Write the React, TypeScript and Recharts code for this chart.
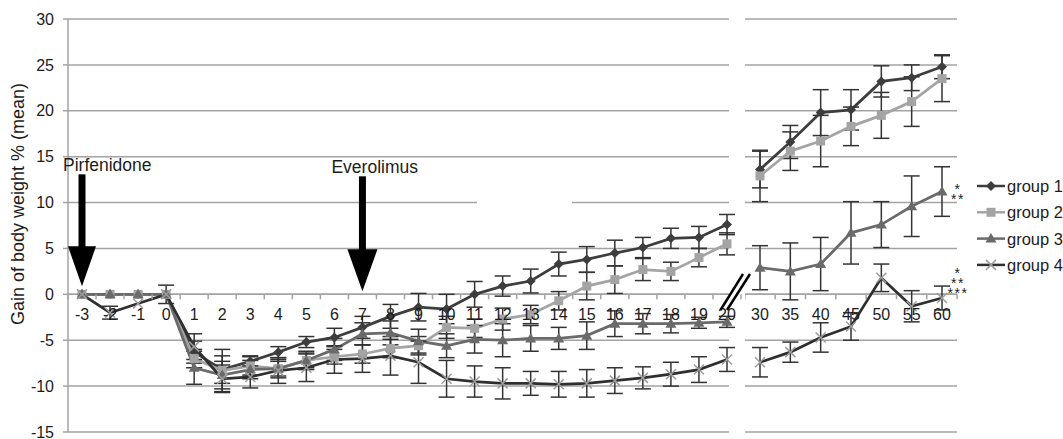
import { LineChart, Line, XAxis, YAxis, CartesianGrid, ReferenceLine, ReferenceDot, ErrorBar } from "recharts";

const FONT = '"Liberation Sans", Arial, sans-serif';
const INK = "#1c1c1c";
const GRID = "#a3a3a3";

// y scale shared by both panels
const Y_MIN = -15;
const Y_MAX = 30;
const Y_TICKS = [-15, -10, -5, 0, 5, 10, 15, 20, 25, 30];
const H = 439;
const TOP = 19;
const BOTTOM = 6;
const X_AXIS_H = 1;
const PLOT_H = H - TOP - BOTTOM - X_AXIS_H;
const ZERO_Y = TOP + (Y_MAX / (Y_MAX - Y_MIN)) * PLOT_H;

// time points (x categories)
const DAYS_L = ["-3", "-2", "-1", "0", "1", "2", "3", "4", "5", "6", "7", "8", "9", "10", "11", "12", "13", "14", "15", "16", "17", "18", "19", "20"];
const DAYS_R = ["30", "35", "40", "45", "50", "55", "60"];

// group means + error (left panel)
const G1_L = [0, 0, 0, 0, -6.3, -8.2, -7.3, -6.3, -5.2, -4.7, -3.6, -2.4, -1.4, -1.6, 0, 0.9, 1.45, 3.3, 3.8, 4.5, 5.1, 6.1, 6.2, 7.6];
const G1_L_ERR = [0, 0, 0, 0, 1.2, 1.5, 0.6, 0.6, 0.6, 1.0, 1.2, 1.3, 1.5, 1.6, 1.4, 1.1, 1.3, 1.3, 1.4, 1.4, 1.1, 1.1, 1.2, 1.1];
const G2_L = [0, 0, 0, 0, -7, -8.3, -7.8, -8.1, -7.2, -6.8, -6.5, -5.9, -5.6, -3.6, -3.7, -2.7, -2.2, -0.7, 0.9, 1.6, 2.7, 2.5, 4.0, 5.5];
const G2_L_ERR = [0, 0, 0, 0, 1, 2.3, 1, 0.8, 0.8, 0.8, 1, 1, 1, 1.2, 1, 1.2, 1, 1, 1.5, 1.5, 1.2, 1, 1, 1.2];
const G3_L = [0, 0, 0, 0, -8, -8.8, -8.2, -8.1, -7.2, -6, -4.3, -4.2, -5.1, -5.6, -4.9, -5, -4.8, -4.8, -4.5, -3.2, -3.2, -3.2, -3.1, -3.0];
const G3_L_ERR = [0, 0, 0, 0, 1.8, 1.5, 1, 1, 1, 1.2, 1.2, 1.3, 1.3, 1.3, 1.5, 1.8, 1.4, 1.2, 1.5, 1.4, 1.1, 1, 0.6, 0.6];
const G4_L = [0, -2, -1, 0, -5.7, -9.2, -9, -8.3, -8, -7.1, -7, -6.7, -7.4, -9.2, -9.5, -9.7, -9.7, -9.8, -9.7, -9.4, -9.1, -8.7, -8.2, -7.1];
const G4_L_ERR = [0, 0.7, 0, 1.0, 1.4, 1.5, 1.2, 1.4, 1.5, 1.5, 1.5, 2.1, 2.3, 2.0, 1.7, 1.7, 1.3, 1.4, 1.5, 1.4, 1.2, 1.3, 1.4, 1.3];

// right panel
const G1_R = [13.6, 16.6, 19.8, 20.1, 23.2, 23.6, 24.8];
const G1_R_ERR = [2, 1.8, 2.5, 2.2, 1.7, 1.4, 1.3];
const G2_R = [12.9, 15.6, 16.7, 18.3, 19.5, 21, 23.5];
const G2_R_ERR = [2.8, 2.1, 2.8, 2.1, 2.5, 2.7, 2.5];
const G3_R = [2.9, 2.5, 3.3, 6.7, 7.6, 9.6, 11.2];
const G3_R_ERR = [2.4, 3.1, 2.9, 3.4, 2.5, 3.3, 2.7];
const G4_R = [-7.4, -6.3, -4.7, -3.5, 1.8, -1.3, -0.4];
const G4_R_ERR = [1.6, 1.1, 1.6, 1.5, 1.5, 1.7, 1.3];

const leftData = DAYS_L.map((t, i) => ({
  t,
  g1: G1_L[i], e1: G1_L_ERR[i],
  g2: G2_L[i], e2: G2_L_ERR[i],
  g3: G3_L[i], e3: G3_L_ERR[i],
  g4: G4_L[i], e4: G4_L_ERR[i],
}));

const rightData = DAYS_R.map((t, i) => ({
  t,
  g1: G1_R[i], e1: G1_R_ERR[i],
  g2: G2_R[i], e2: G2_R_ERR[i],
  g3: G3_R[i], e3: G3_R_ERR[i],
  g4: G4_R[i], e4: G4_R_ERR[i],
}));

type MarkProps = { cx: number; cy: number };

const Diamond = ({ cx, cy }: MarkProps) => (
  <path d={`M${cx},${cy - 5} L${cx + 5},${cy} L${cx},${cy + 5} L${cx - 5},${cy} Z`} fill="#3d3d3d" />
);
const Square = ({ cx, cy }: MarkProps) => <rect x={cx - 4.5} y={cy - 4.5} width={9} height={9} fill="#a4a4a4" />;
const Triangle = ({ cx, cy }: MarkProps) => (
  <path d={`M${cx},${cy - 5.5} L${cx + 5.5},${cy + 4} L${cx - 5.5},${cy + 4} Z`} fill="#6a6a6a" />
);
const Cross = ({ cx, cy }: MarkProps) => (
  <g stroke="#9c9c9c" strokeWidth={1.5}>
    <line x1={cx - 5} y1={cy - 5} x2={cx + 5} y2={cy + 5} />
    <line x1={cx - 5} y1={cy + 5} x2={cx + 5} y2={cy - 5} />
  </g>
);

const SERIES = [
  { key: "g1", err: "e1", name: "group 1", color: "#3d3d3d", Mark: Diamond },
  { key: "g2", err: "e2", name: "group 2", color: "#a4a4a4", Mark: Square },
  { key: "g3", err: "e3", name: "group 3", color: "#6a6a6a", Mark: Triangle },
  { key: "g4", err: "e4", name: "group 4", color: "#2f2f2f", Mark: Cross },
];

// x labels sit under the y=0 line, like Excel's crossing axis
function makeTick(step: number) {
  return (props: any) => {
    const { x, payload, index } = props;
    return (
      <g>
        {index === 0 && <line x1={x - step / 2} y1={ZERO_Y} x2={x - step / 2} y2={ZERO_Y + 5} stroke={GRID} strokeWidth={1.5} />}
        <line x1={x + step / 2} y1={ZERO_Y} x2={x + step / 2} y2={ZERO_Y + 5} stroke={GRID} strokeWidth={1.5} />
        <text x={x} y={ZERO_Y + 26} textAnchor="middle" fontSize={16} fill={INK} fontFamily={FONT}>
          {payload.value}
        </text>
      </g>
    );
  };
}

function renderSeries() {
  return SERIES.map((s) => (
    <Line
      key={s.key}
      dataKey={s.key}
      stroke={s.color}
      strokeWidth={2.75}
      isAnimationActive={false}
      activeDot={false}
      dot={(p: any) => <s.Mark key={`${s.key}-${p.index}`} cx={p.cx} cy={p.cy} />}
    >
      <ErrorBar dataKey={s.err} width={8} stroke="#333" strokeWidth={1.5} direction="y" isAnimationActive={false} />
    </Line>
  ));
}

const Arrow = (label: string, textDx: number, tipUp: number, shaft: number, headH: number, headW: number) => (p: any) => {
  const tip = p.cy - tipUp;
  const cx = p.cx;
  return (
    <g>
      <text x={cx + textDx} y={tip - shaft - 3} fontSize={17.5} fill={INK} fontFamily={FONT}>{label}</text>
      <rect x={cx - 3.5} y={tip - shaft} width={7} height={shaft - headH + 1} fill="#000" />
      <path d={`M${cx - headW / 2},${tip - headH} L${cx + headW / 2},${tip - headH} L${cx},${tip} Z`} fill="#000" />
    </g>
  );
};

// stacked significance marks, one text block
const Stars = (lines: string[], dy0: number) => (p: any) => (
  <text x={p.cx + 16} y={p.cy + dy0} textAnchor="middle" fontSize={14} fill={INK} fontFamily={FONT} letterSpacing={1.5}>
    {lines.map((s, i) => (
      <tspan key={i} x={p.cx + 16} dy={i === 0 ? 0 : 10}>{s}</tspan>
    ))}
  </text>
);

const LEFT_PLOT_END = 729;
const LEFT_W = 745;
const LEFT_AXIS_W = 68;
const LEFT_PAD = { left: 14, right: 2 };
const LEFT_STEP = (LEFT_PLOT_END - LEFT_AXIS_W - LEFT_PAD.left - LEFT_PAD.right) / (DAYS_L.length - 1);

const RIGHT_X = 745;
const RIGHT_PLOT_W = 212;
const RIGHT_PAD = { left: 15, right: 15 };
const RIGHT_STEP = (RIGHT_PLOT_W - RIGHT_PAD.left - RIGHT_PAD.right) / (DAYS_R.length - 1);

export default function App() {
  return (
    <div style={{ position: "absolute", left: 0, top: 0, width: 1063, height: H, background: "#fff", fontFamily: FONT, overflow: "hidden" }}>
      <div style={{ position: "absolute", left: 0, top: 0 }}>
        <LineChart width={LEFT_W} height={H} data={leftData} margin={{ top: TOP, right: LEFT_W - LEFT_PLOT_END, bottom: BOTTOM, left: 0 }}>
          <CartesianGrid vertical={false} stroke={GRID} strokeWidth={1.5} />
          <XAxis dataKey="t" height={X_AXIS_H} axisLine={false} tickLine={false} interval={0} padding={LEFT_PAD} tick={makeTick(LEFT_STEP)} />
          <YAxis
            width={LEFT_AXIS_W}
            domain={[Y_MIN, Y_MAX]}
            ticks={Y_TICKS}
            interval={0}
            axisLine={{ stroke: GRID, strokeWidth: 1.5 }}
            tickLine={{ stroke: GRID, strokeWidth: 1.5 }}
            tickSize={5}
            tickMargin={9}
            tick={{ fontSize: 16, fill: INK, fontFamily: FONT }}
          />
          <ReferenceLine y={0} stroke={GRID} strokeWidth={1.5} />
          {renderSeries()}
          <ReferenceDot x="-3" y={0} r={0} shape={Arrow("Pirfenidone", -19, 8, 112, 40, 28)} />
          <ReferenceDot x="7" y={0} r={0} shape={Arrow("Everolimus", -31, 3, 115, 42, 30)} />
        </LineChart>
      </div>

      <div style={{ position: "absolute", left: RIGHT_X, top: 0 }}>
        <LineChart width={RIGHT_PLOT_W + 40} height={H} data={rightData} margin={{ top: TOP, right: 40, bottom: BOTTOM, left: 0 }}>
          <CartesianGrid vertical={false} stroke={GRID} strokeWidth={1.5} />
          <XAxis dataKey="t" height={X_AXIS_H} axisLine={false} tickLine={false} interval={0} padding={RIGHT_PAD} tick={makeTick(RIGHT_STEP)} />
          <YAxis hide width={0} domain={[Y_MIN, Y_MAX]} ticks={Y_TICKS} interval={0} />
          <ReferenceLine y={0} stroke={GRID} strokeWidth={1.5} />
          {renderSeries()}
          <ReferenceDot x="60" y={G3_R[6]} r={0} shape={Stars(["*", "**"], 2)} />
          <ReferenceDot x="60" y={G4_R[6]} r={0} shape={Stars(["*", "**", "***"], -20)} />
        </LineChart>
      </div>

      <svg width={1063} height={H} style={{ position: "absolute", left: 0, top: 0, pointerEvents: "none" }}>
        <text transform="translate(24,204) rotate(-90)" textAnchor="middle" fontSize={18} fill={INK} fontFamily={FONT}>
          Gain of body weight % (mean)
        </text>
        {/* gap in the 10 gridline */}
        <rect x={477} y={ZERO_Y - 94} width={95} height={5} fill="#fff" />
        {/* axis break */}
        <line x1={720.5} y1={310} x2={743} y2={274} stroke="#000" strokeWidth={2.5} />
        <line x1={727} y1={310} x2={750} y2={274} stroke="#000" strokeWidth={2.5} />
        {/* legend */}
        {SERIES.map((s, i) => {
          const y = 186 + i * 26.3;
          return (
            <g key={s.key}>
              <line x1={977} y1={y} x2={1005} y2={y} stroke={s.color} strokeWidth={2.5} />
              <s.Mark cx={991} cy={y} />
              <text x={1007} y={y + 6} fontSize={16.5} fill={INK} fontFamily={FONT}>{s.name}</text>
            </g>
          );
        })}
      </svg>
    </div>
  );
}
